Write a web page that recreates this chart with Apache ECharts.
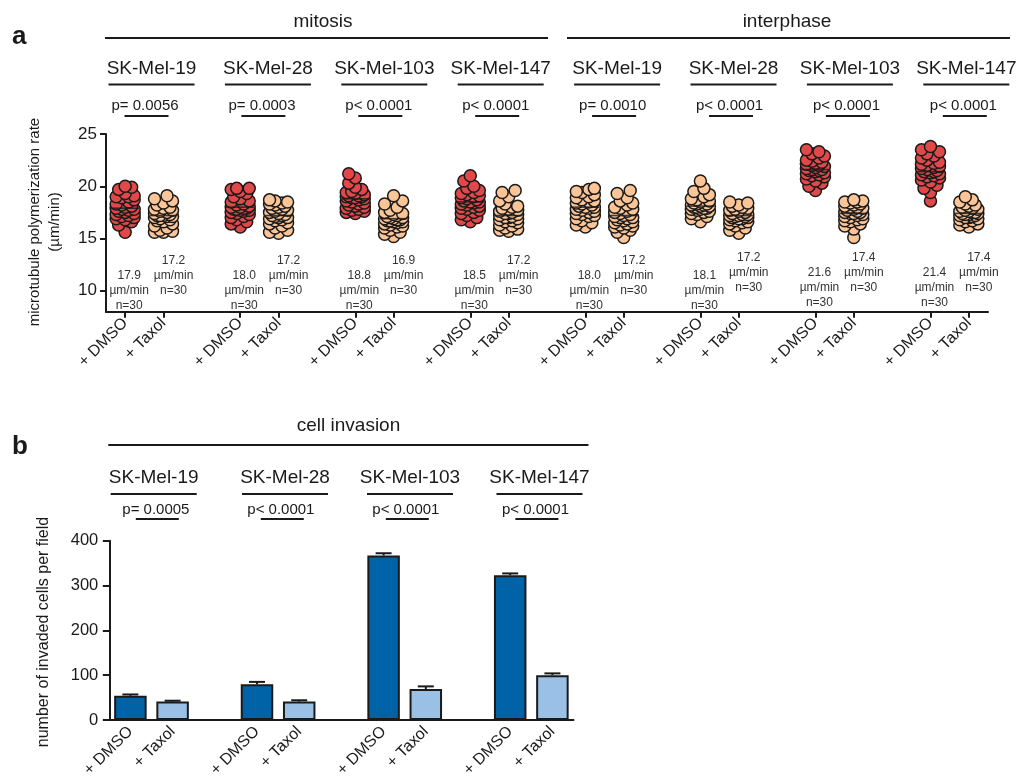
<!DOCTYPE html>
<html lang="en">
<head>
<meta charset="UTF-8">
<title>microtubule polymerization rate and cell invasion</title>
<style>
html, body { margin: 0; padding: 0; background: #fff; }
#main { width: 1019px; height: 777px; }
</style>
<script src="https://cdn.jsdelivr.net/npm/echarts@6/dist/echarts.min.js"></script>
</head>
<body>
<div id="main"></div>
<script>
// ---- data ----
var cellLines = ['SK-Mel-19', 'SK-Mel-28', 'SK-Mel-103', 'SK-Mel-147'];
var phases = ['mitosis', 'interphase'];
var treatLabels = ['+ DMSO', '+ Taxol'];

// panel a: polymerization rate (µm/min), 30 comets per condition
var mit19Dmso  = [15.6,16.3,16.6,16.8,16.9,17.0,17.1,17.2,17.3,17.4,17.5,17.6,17.7,17.8,17.8,17.9,18.0,18.1,18.2,18.3,18.5,18.7,18.9,19.0,19.0,19.1,19.3,19.7,19.9,20.0];
var mit19Taxol = [15.6,15.6,15.7,15.8,16.0,16.2,16.4,16.6,16.7,16.8,16.9,17.0,17.1,17.1,17.2,17.2,17.2,17.3,17.4,17.5,17.6,17.7,17.8,17.9,18.0,18.2,18.4,18.6,18.8,19.1];
var mit28Dmso  = [16.1,16.4,16.6,16.8,17.0,17.1,17.3,17.4,17.5,17.6,17.7,17.7,17.8,17.8,17.9,17.9,18.0,18.0,18.1,18.2,18.3,18.5,18.6,18.8,19.0,19.3,19.5,19.7,19.8,19.8];
var mit28Taxol = [15.5,15.6,15.8,16.0,16.2,16.4,16.5,16.7,16.8,16.9,17.0,17.0,17.1,17.2,17.2,17.3,17.4,17.5,17.6,17.7,17.8,17.9,18.0,18.1,18.2,18.3,18.4,18.5,18.6,18.7];
var mit103Dmso  = [17.4,17.5,17.6,17.7,17.8,17.9,18.0,18.1,18.2,18.3,18.4,18.5,18.6,18.7,18.8,18.9,18.9,19.0,19.0,19.1,19.1,19.2,19.3,19.4,19.5,19.7,19.9,20.3,20.8,21.2];
var mit103Taxol = [15.2,15.4,15.6,15.8,16.0,16.1,16.2,16.3,16.4,16.5,16.6,16.6,16.7,16.7,16.8,16.8,16.9,16.9,17.0,17.0,17.1,17.2,17.3,17.4,17.5,17.7,18.0,18.3,18.6,19.1];
var mit147Dmso  = [16.6,16.8,17.0,17.2,17.4,17.5,17.7,17.8,17.9,18.0,18.1,18.2,18.3,18.4,18.5,18.5,18.6,18.7,18.8,18.9,19.0,19.1,19.2,19.3,19.4,19.6,19.8,20.0,20.5,21.0];
var mit147Taxol = [15.7,15.8,15.9,16.0,16.2,16.3,16.5,16.6,16.7,16.8,16.9,17.0,17.0,17.1,17.2,17.3,17.4,17.4,17.5,17.6,17.7,17.8,17.9,18.0,18.1,18.3,18.6,19.0,19.4,19.6];
var int19Dmso  = [16.1,16.3,16.5,16.7,16.9,17.1,17.2,17.3,17.4,17.5,17.6,17.7,17.8,17.9,18.0,18.0,18.1,18.2,18.3,18.4,18.5,18.6,18.7,18.9,19.0,19.2,19.4,19.5,19.7,19.8];
var int19Taxol = [15.1,15.6,15.8,16.0,16.1,16.2,16.3,16.4,16.5,16.6,16.7,16.8,16.9,17.0,17.0,17.1,17.2,17.3,17.4,17.5,17.6,17.8,17.9,18.0,18.2,18.4,18.6,18.9,19.3,19.6];
var int28Dmso  = [16.6,16.9,17.1,17.3,17.4,17.5,17.6,17.7,17.8,17.8,17.9,17.9,18.0,18.0,18.1,18.1,18.2,18.2,18.3,18.3,18.4,18.5,18.6,18.7,18.8,19.0,19.2,19.5,19.8,20.5];
var int28Taxol = [15.5,15.8,16.0,16.2,16.4,16.5,16.6,16.7,16.8,16.9,16.9,17.0,17.0,17.1,17.1,17.2,17.2,17.3,17.3,17.4,17.5,17.6,17.7,17.8,17.9,18.0,18.1,18.2,18.4,18.5];
var int103Dmso  = [19.6,20.0,20.3,20.5,20.7,20.9,21.0,21.1,21.2,21.3,21.4,21.5,21.5,21.6,21.6,21.7,21.8,21.9,22.0,22.0,22.1,22.2,22.3,22.4,22.5,22.7,22.9,23.1,23.3,23.5];
var int103Taxol = [15.1,15.9,16.2,16.4,16.6,16.7,16.8,16.9,17.0,17.1,17.2,17.3,17.4,17.4,17.5,17.5,17.6,17.7,17.8,17.9,18.0,18.0,18.1,18.2,18.3,18.4,18.5,18.5,18.6,18.7];
var int147Dmso  = [18.6,19.4,19.8,20.1,20.4,20.6,20.8,20.9,21.0,21.1,21.2,21.3,21.4,21.4,21.5,21.6,21.7,21.8,21.9,22.0,22.1,22.2,22.3,22.5,22.7,22.9,23.1,23.3,23.5,23.8];
var int147Taxol = [16.1,16.3,16.4,16.6,16.7,16.8,16.9,17.0,17.0,17.1,17.2,17.2,17.3,17.3,17.4,17.4,17.5,17.5,17.6,17.6,17.7,17.8,17.9,18.0,18.1,18.2,18.3,18.5,18.7,19.0];

var meanDmso  = [17.9, 18.0, 18.8, 18.5, 18.0, 18.1, 21.6, 21.4];
var meanTaxol = [17.2, 17.2, 16.9, 17.2, 17.2, 17.2, 17.4, 17.4];
var nCells = [30, 30, 30, 30, 30, 30, 30, 30];
var pValuesA = ['p= 0.0056', 'p= 0.0003', 'p< 0.0001', 'p< 0.0001', 'p= 0.0010', 'p< 0.0001', 'p< 0.0001', 'p< 0.0001'];
var yTicksA = [10, 15, 20, 25];

// panel b: invaded cells per field
var invDmso     = [54, 80, 367, 323];
var invTaxol    = [41, 41, 69, 100];
var invDmsoErr  = [3, 5, 5, 4];
var invTaxolErr = [2, 3, 6, 4];
var pValuesB = ['p= 0.0005', 'p< 0.0001', 'p< 0.0001', 'p< 0.0001'];

// ---- layout / style ----
var FONT = 'Liberation Sans, Arial, sans-serif';
var INK = '#1a1a1a';
var RED = '#e0484a', PEACH = '#fcc597';
var BLUE = '#0063a7', LBLUE = '#9bc0e6';
var dmsoRed = [true, true, true, true, false, false, true, true];

var gA = { left: 106, top: 134, width: 882, height: 177.7 };
var gB = { left: 109.3, top: 540.7, width: 464.2, height: 179.3 };
var slotsA = 23;
var yMinA = 8, yMaxA = 25;

var rateArrays = [
  [mit19Dmso, mit19Taxol], [mit28Dmso, mit28Taxol], [mit103Dmso, mit103Taxol], [mit147Dmso, mit147Taxol],
  [int19Dmso, int19Taxol], [int28Dmso, int28Taxol], [int103Dmso, int103Taxol], [int147Dmso, int147Taxol]
];

// category slots (blank slot between cell lines)
var catsA = [];
for (var g = 0; g < 8; g++) {
  catsA.push(treatLabels[0], treatLabels[1]);
  if (g < 7) catsA.push('');
}
var catsB = [];
for (var g = 0; g < 4; g++) {
  catsB.push(treatLabels[0], treatLabels[1]);
  if (g < 3) catsB.push('');
}

var slotWA = gA.width / slotsA;
var pxPerUnit = gA.height / (yMaxA - yMinA);

// simple beeswarm: horizontal spread so dots don't pile up
function swarm(values, idx) {
  var sorted = values.slice().sort(function (a, b) { return a - b; });
  var placed = [];
  var cands = [0, -6.5, 6.5, -3.5, 3.5, -9, 9];
  sorted.forEach(function (v) {
    var py = v * pxPerUnit, best = 0, bestD = -1;
    for (var k = 0; k < cands.length; k++) {
      var c = cands[k], d = Infinity;
      placed.forEach(function (p) { d = Math.min(d, Math.hypot(p[0] - c, p[1] - py)); });
      if (d >= 7.5) { best = c; break; }
      if (d > bestD) { bestD = d; best = c; }
    }
    placed.push([best, py]);
  });
  return placed.map(function (p) { return [idx + p[0] / slotWA, p[1] / pxPerUnit]; });
}

var series = [];
rateArrays.forEach(function (pair, g) {
  series.push({
    type: 'scatter', xAxisIndex: 0, yAxisIndex: 0,
    data: swarm(pair[0], 3 * g),
    symbolSize: 12, z: 3,
    itemStyle: { color: dmsoRed[g] ? RED : PEACH, borderColor: INK, borderWidth: 1.5, opacity: 1 }
  });
  series.push({
    type: 'scatter', xAxisIndex: 0, yAxisIndex: 0,
    data: swarm(pair[1], 3 * g + 1),
    symbolSize: 12, z: 3,
    itemStyle: { color: PEACH, borderColor: INK, borderWidth: 1.5, opacity: 1 }
  });
});
var meanPts = [];
for (var g = 0; g < 8; g++) {
  meanPts.push([3 * g, meanDmso[g]], [3 * g + 1, meanTaxol[g]]);
}
series.push({
  type: 'scatter', xAxisIndex: 0, yAxisIndex: 0, data: meanPts,
  symbol: 'rect', symbolSize: [28, 1.6], z: 4, silent: true,
  itemStyle: { color: INK }
});

// panel b bars
var barData = [], errData = [];
for (var g = 0; g < 4; g++) {
  barData[3 * g] = { value: invDmso[g], itemStyle: { color: BLUE } };
  barData[3 * g + 1] = { value: invTaxol[g], itemStyle: { color: LBLUE } };
  if (g < 3) barData[3 * g + 2] = '-';
  errData.push([3 * g, invDmso[g], invDmsoErr[g]], [3 * g + 1, invTaxol[g], invTaxolErr[g]]);
}
series.push({
  type: 'bar', xAxisIndex: 1, yAxisIndex: 1, data: barData,
  barWidth: 32.5, z: 2,
  itemStyle: { borderColor: INK, borderWidth: 2 }
});
series.push({
  type: 'custom', xAxisIndex: 1, yAxisIndex: 1, data: errData, z: 3,
  encode: { x: 0, y: 1 },
  renderItem: function (params, api) {
    var x = api.value(0), v = api.value(1), e = api.value(2);
    var p0 = api.coord([x, v]), p1 = api.coord([x, v + e]);
    return { type: 'group', children: [
      { type: 'line', shape: { x1: p0[0], y1: p0[1], x2: p1[0], y2: p1[1] }, style: { stroke: INK, lineWidth: 2 } },
      { type: 'line', shape: { x1: p1[0] - 8, y1: p1[1], x2: p1[0] + 8, y2: p1[1] }, style: { stroke: INK, lineWidth: 2 } }
    ] };
  }
});

// ---- annotations (headers, p values, means) ----
function tickXA(i) { return gA.left + (i + 0.5) * slotWA; }
function txt(x, y, s, size, opt) {
  opt = opt || {};
  return {
    type: 'text', x: x, y: y, rotation: opt.rot || 0, silent: true,
    style: {
      text: s, font: (opt.bold ? 'bold ' : '') + size + 'px ' + FONT,
      fill: opt.fill || INK, textAlign: opt.align || 'center', textVerticalAlign: 'middle',
      lineHeight: opt.lh
    }
  };
}
function ln(x1, y1, x2, y2) {
  return { type: 'line', silent: true, shape: { x1: x1, y1: y1, x2: x2, y2: y2 }, style: { stroke: INK, lineWidth: 2 } };
}

var graphics = [];
graphics.push(txt(12, 37, 'a', 26, { bold: true, align: 'left' }));
graphics.push(txt(323, 22, phases[0], 19), ln(105, 38, 548, 38));
graphics.push(txt(787, 22, phases[1], 19), ln(567, 38, 1010, 38));
for (var g = 0; g < 8; g++) {
  var cx = 151.5 + g * 116.4;
  graphics.push(txt(cx, 68.5, cellLines[g % 4], 19), ln(cx - 43, 84.5, cx + 43, 84.5));
  var ux = 124.5 + g * 116.9;
  graphics.push(txt(ux - 13, 106, pValuesA[g], 15, { align: 'left' }), ln(ux, 116, ux + 44, 116));
  var dY = g < 6 ? 290.7 : 287.7;
  var tY = g < 5 ? 276 : 272.4;
  graphics.push(txt(tickXA(3 * g) + 4, dY, meanDmso[g].toFixed(1) + '\nµm/min\nn=' + nCells[g], 12, { fill: '#333', lh: 15 }));
  graphics.push(txt(tickXA(3 * g + 1) + 10, tY, meanTaxol[g].toFixed(1) + '\nµm/min\nn=' + nCells[g], 12, { fill: '#333', lh: 15 }));
}
graphics.push(txt(35, 222, 'microtubule polymerization rate', 15, { rot: Math.PI / 2 }));
graphics.push(txt(55, 222, '(µm/min)', 15, { rot: Math.PI / 2 }));

graphics.push(txt(12, 447, 'b', 26, { bold: true, align: 'left' }));
graphics.push(txt(348.5, 426, 'cell invasion', 19), ln(108.3, 445, 588.5, 445));
var namesB = [153.7, 285, 410, 539.5];
var pLineB = [135.8, 260.8, 385.8, 515.4];
for (var g = 0; g < 4; g++) {
  graphics.push(txt(namesB[g], 478, cellLines[g], 19), ln(namesB[g] - 43, 494, namesB[g] + 43, 494));
  graphics.push(txt(pLineB[g] - 13.5, 510, pValuesB[g], 15, { align: 'left' }), ln(pLineB[g], 519, pLineB[g] + 43, 519));
}
graphics.push(txt(44, 632, 'number of invaded cells per field', 16, { rot: Math.PI / 2 }));

var tickIdxA = [];
catsA.forEach(function (c, i) { if (c) tickIdxA.push(i); });

var option = {
  animation: false,
  backgroundColor: '#fff',
  textStyle: { fontFamily: FONT },
  grid: [
    { left: gA.left, top: gA.top, width: gA.width, height: gA.height, outerBoundsMode: 'none', containLabel: false },
    { left: gB.left, top: gB.top, width: gB.width, height: gB.height, outerBoundsMode: 'none', containLabel: false }
  ],
  xAxis: [
    {
      type: 'value', gridIndex: 0, min: -0.5, max: slotsA - 0.5,
      splitLine: { show: false },
      axisLine: { onZero: false, lineStyle: { color: INK, width: 2 } },
      axisTick: { customValues: tickIdxA, length: 6, lineStyle: { color: INK, width: 2 } },
      axisLabel: {
        customValues: tickIdxA, rotate: 45, margin: 9, fontSize: 16, color: INK, fontFamily: FONT,
        formatter: function (v) { return catsA[Math.round(v)]; }
      }
    },
    {
      type: 'category', gridIndex: 1, data: catsB,
      axisLine: { onZero: false, lineStyle: { color: INK, width: 2 } },
      axisTick: { alignWithLabel: true, length: 6.5, lineStyle: { color: INK, width: 2 },
        interval: function (i, v) { return v !== ''; } },
      axisLabel: { interval: 0, rotate: 45, margin: 9, fontSize: 16, color: INK, fontFamily: FONT }
    }
  ],
  yAxis: [
    {
      type: 'value', gridIndex: 0, min: yMinA, max: yMaxA,
      splitLine: { show: false },
      axisLine: { show: true, onZero: false, lineStyle: { color: INK, width: 2 } },
      axisTick: { show: true, customValues: yTicksA, length: 6, lineStyle: { color: INK, width: 2 } },
      axisLabel: { customValues: yTicksA, margin: 9, fontSize: 17, color: INK, fontFamily: FONT }
    },
    {
      type: 'value', gridIndex: 1, min: 0, max: 400, interval: 100,
      splitLine: { show: false },
      axisLine: { show: true, onZero: false, lineStyle: { color: INK, width: 2 } },
      axisTick: { show: true, length: 6.5, lineStyle: { color: INK, width: 2 } },
      axisLabel: { margin: 11, fontSize: 16.5, color: INK, fontFamily: FONT }
    }
  ],
  series: series,
  graphic: graphics
};

var chart = echarts.init(document.getElementById('main'), null, { renderer: 'canvas' });
chart.setOption(option);
</script>
</body>
</html>
